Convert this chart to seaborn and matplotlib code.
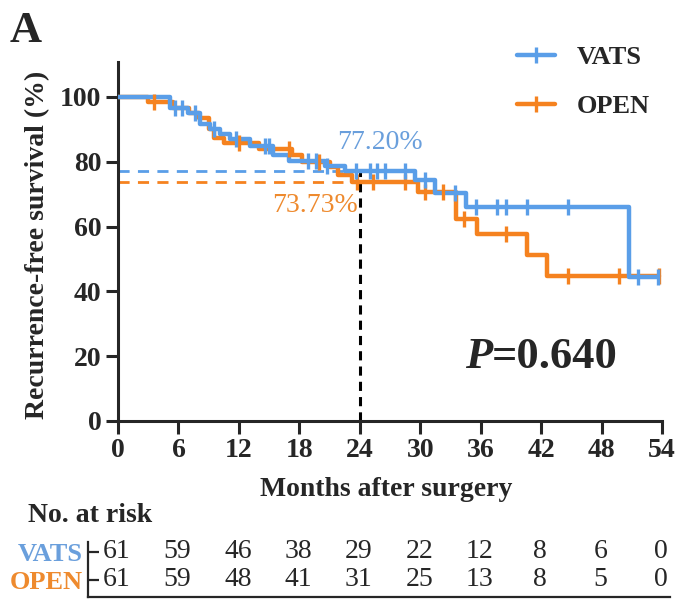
import numpy as np
import matplotlib
matplotlib.use("Agg")
import matplotlib.pyplot as plt
from matplotlib.lines import Line2D
import seaborn as sns

# ---------------- data ----------------
groups = ["VATS", "OPEN"]
month_ticks = [0, 6, 12, 18, 24, 30, 36, 42, 48, 54]
surv_ticks = [0, 20, 40, 60, 80, 100]

vats_time = [0, 5.2, 6.9, 8.1, 9.1, 10.1, 11.1, 13.1, 15.4, 17.0, 20.5, 22.5,
             29.5, 31.5, 34.5, 50.7, 53.6]
vats_surv = [100, 96.7, 95.1, 91.8, 90.2, 88.5, 86.9, 85.0, 82.2, 80.3, 78.7, 77.2,
             74.4, 70.5, 66.0, 44.4, 44.4]
vats_censor = [5.7, 6.4, 7.6, 9.5, 11.7, 14.6, 15.0, 18.9, 19.7, 20.7, 23.6, 25.0,
               25.7, 26.5, 28.5, 30.5, 33.5, 35.5, 37.6, 38.5, 40.6, 44.7, 51.6, 53.6]

open_time = [0, 3.0, 5.5, 7.0, 8.0, 9.0, 9.5, 10.5, 14.0, 17.3, 18.3, 21.0, 21.8,
             23.2, 29.8, 33.6, 35.6, 40.6, 42.6, 53.7]
open_surv = [100, 98.4, 96.7, 95.1, 93.4, 90.2, 87.5, 85.8, 83.9, 82.0, 80.0, 78.3,
             75.9, 73.7, 70.7, 62.3, 57.7, 51.2, 44.8, 44.8]
open_censor = [3.6, 12.0, 17.0, 20.0, 23.7, 25.3, 28.5, 30.5, 32.3, 34.3, 38.5,
               44.7, 49.7, 53.7]

risk_vats = [61, 59, 46, 38, 29, 22, 12, 8, 6, 0]
risk_open = [61, 59, 48, 41, 31, 25, 13, 8, 5, 0]

vats_24 = 77.20
open_24 = 73.73
landmark = 24
p_text = "=0.640"

# ---------------- style ----------------
sns.set_style("ticks")
plt.rcParams["font.family"] = ["Liberation Serif", "DejaVu Serif"]
plt.rcParams["axes.linewidth"] = 2.2

BLUE = "#5A9EE8"
ORANGE = "#F5821F"
BLUE_T = "#6A9FDC"
ORANGE_T = "#EE8A2E"

W, H = 684, 607
fig = plt.figure(figsize=(W / 100, H / 100), dpi=100)

# main axes: x=0 at 118px, x=54 at 662px; y=0 at 421px, top of spine at 62px
ax = fig.add_axes([118 / W, 1 - 421 / H, (662 - 118) / W, (421 - 62) / H])
ax.set_xlim(0, 54)
ax.set_ylim(0, (421 - 62) / 3.24)


def step_at(times, surv, t):
    idx = np.searchsorted(np.asarray(times), t, side="right") - 1
    return np.asarray(surv)[idx]


for times, surv, cens, col in [(open_time, open_surv, open_censor, ORANGE),
                                (vats_time, vats_surv, vats_censor, BLUE)]:
    sns.lineplot(x=times, y=surv, drawstyle="steps-post", color=col, lw=3.2,
                 estimator=None, sort=False, ax=ax, zorder=3)
    sns.lineplot(x=cens, y=step_at(times, surv, cens), marker="|", linestyle="none",
                 markersize=11, markeredgewidth=2.4, markeredgecolor=col, color=col,
                 estimator=None, sort=False, ax=ax, zorder=4)

# landmark dashed lines
ax.plot([0, landmark], [vats_24, vats_24], ls=(0, (4, 3)), color=BLUE, lw=2, zorder=2)
ax.plot([0, landmark], [open_24, open_24], ls=(0, (4, 3)), color=ORANGE, lw=2, zorder=2)
ax.plot([landmark, landmark], [0, vats_24], ls=(0, (3, 2)), color="black", lw=2.2, zorder=2)

ax.text(26.0, 86.0, f"{vats_24:.2f}%", color=BLUE_T, fontsize=20, ha="center", va="center")
ax.text(19.6, 66.4, f"{open_24:.2f}%", color=ORANGE_T, fontsize=20, ha="center", va="center")

# p-value
ax.text(37.1, 19.6, "P", fontsize=32, fontweight="bold", fontstyle="italic",
        ha="right", va="center")
ax.text(37.1, 19.6, p_text, fontsize=32, fontweight="bold", ha="left", va="center")

ax.set_xticks(month_ticks)
ax.set_yticks(surv_ticks)
ax.tick_params(axis="both", length=9, width=2.2, direction="out", labelsize=20, pad=3)
for lab in ax.get_xticklabels() + ax.get_yticklabels():
    lab.set_fontweight("bold")
sns.despine(ax=ax)

ax.set_xlabel("Months after surgery", fontsize=20, fontweight="bold")
ax.xaxis.set_label_coords(0.493, -(477 - 421) / (421 - 62))
ax.set_ylabel("Recurrence-free survival (%)", fontsize=20, fontweight="bold")
ax.yaxis.set_label_coords(-(118 - 50) / (662 - 118), 0.49)

handles = [Line2D([0], [0], color=BLUE, lw=3.2, marker="|", markersize=12, mew=2.4),
           Line2D([0], [0], color=ORANGE, lw=3.2, marker="|", markersize=12, mew=2.4)]
leg = ax.legend(handles, groups, loc="upper left", bbox_to_anchor=(517 / W, 1 - 46 / H),
                bbox_transform=fig.transFigure, frameon=False, handlelength=1.45,
                handletextpad=0.8, labelspacing=0.95, borderpad=0, borderaxespad=0,
                prop={"size": 19, "weight": "bold"})

fig.text(10 / W, 1 - 42 / H, "A", fontsize=32, fontweight="bold", va="baseline")

# ---------------- risk table ----------------
x0 = -(118 - 88) / ((662 - 118) / 54)
x1 = (670 - 118) / ((662 - 118) / 54)
tax = fig.add_axes([88 / W, 1 - 597 / H, (670 - 88) / W, (597 - 542) / H])
tax.set_xlim(x0, x1)
tax.set_ylim(0, 1)
sns.despine(ax=tax)
for sp in ("left", "bottom"):
    tax.spines[sp].set_linewidth(1.6)
rows_y = [0.82, 0.31]
tax.set_xticks([])
tax.set_yticks(rows_y)
tax.set_yticklabels(groups)
tax.tick_params(axis="y", direction="in", length=8, width=1.6, pad=4, labelsize=19)
for lab, col in zip(tax.get_yticklabels(), [BLUE_T, ORANGE_T]):
    lab.set_color(col)
    lab.set_fontweight("bold")
for yy, vals in zip(rows_y, [risk_vats, risk_open]):
    for m, v in zip(month_ticks, vals):
        tax.text(m - 0.1, yy, str(v), fontsize=20, ha="center", va="center")

fig.text(28 / W, 1 - 515 / H, "No. at risk", fontsize=20, fontweight="bold",
         ha="left", va="center")

fig.savefig("out.png", dpi=100)
